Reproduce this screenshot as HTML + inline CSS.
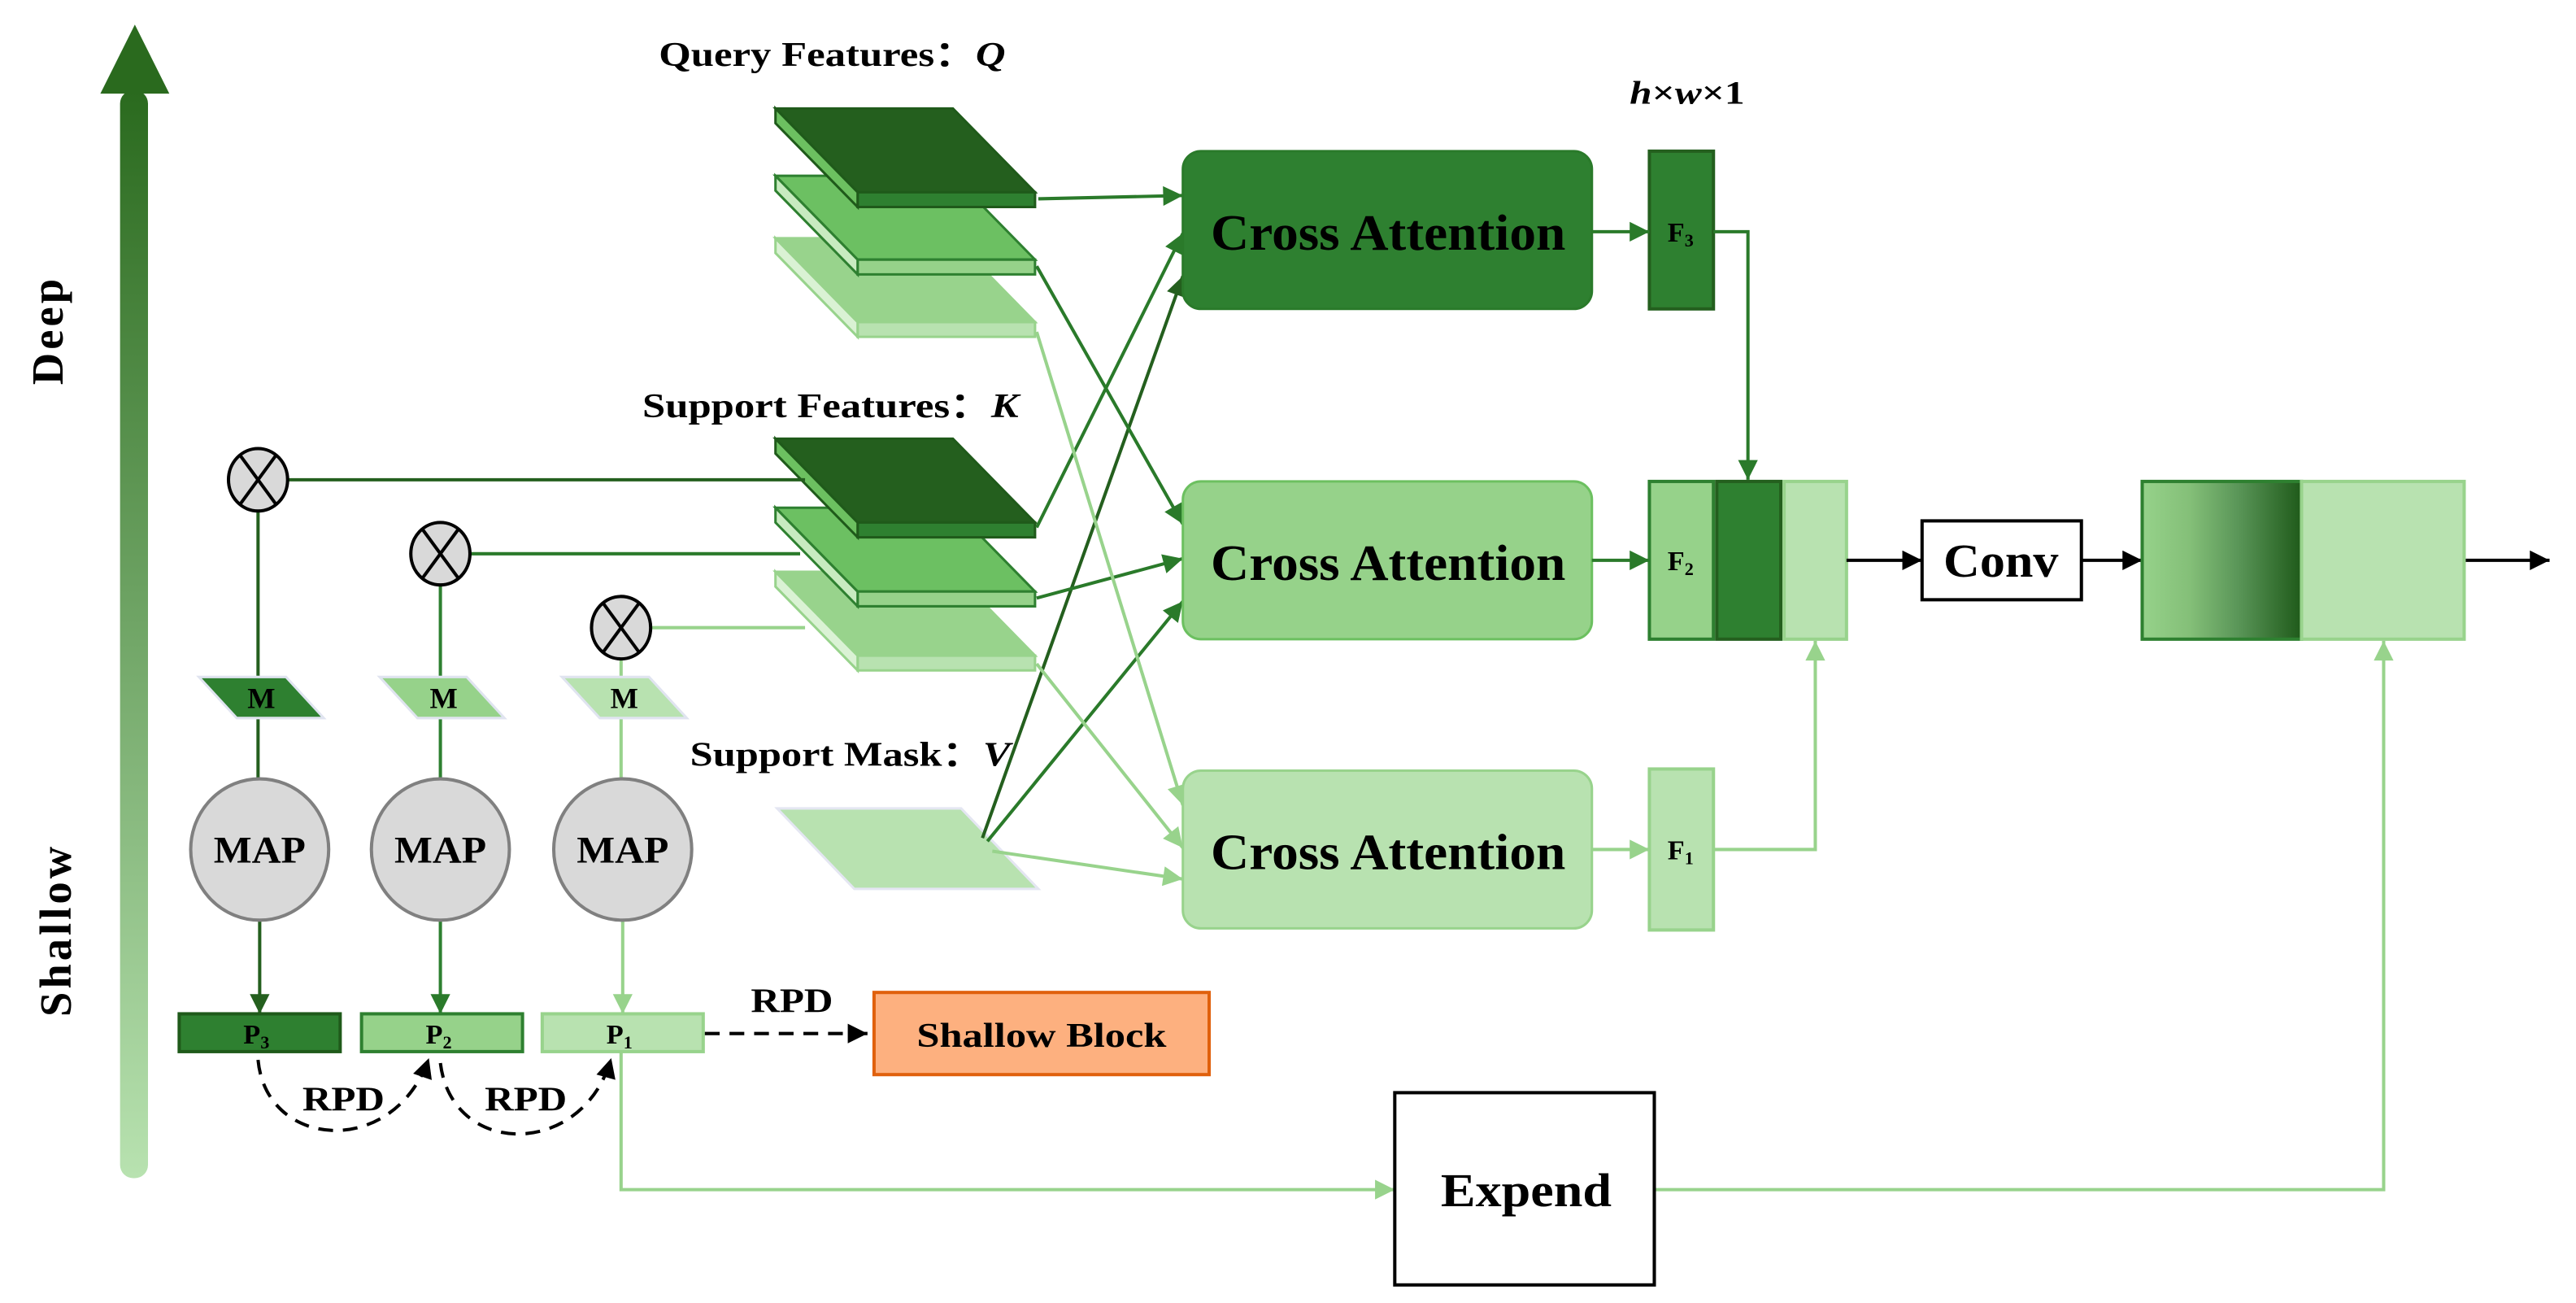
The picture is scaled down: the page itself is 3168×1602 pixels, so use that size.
<!DOCTYPE html>
<html><head><meta charset="utf-8"><style>
html,body{margin:0;padding:0;background:#fff;}
svg{display:block;}
text{font-family:"Liberation Serif",serif;font-weight:bold;fill:#000;}
</style></head><body>
<svg width="3168" height="1602" viewBox="0 0 1568 793" xmlns="http://www.w3.org/2000/svg">
<defs>
<linearGradient id="ga" x1="0" y1="0" x2="0" y2="1">
<stop offset="0" stop-color="#2a6a1e"/><stop offset="1" stop-color="#b8e2b0"/></linearGradient>
<linearGradient id="go" x1="0" y1="0" x2="1" y2="0">
<stop offset="0" stop-color="#96d28a"/><stop offset="0.3" stop-color="#84bf78"/><stop offset="0.6" stop-color="#5a9658"/><stop offset="1" stop-color="#1f5a1a"/></linearGradient>
<marker id="mD" viewBox="0 0 10 10" refX="10" refY="5" markerWidth="14" markerHeight="12" markerUnits="userSpaceOnUse" orient="auto"><path d="M0,0L10,5L0,10z" fill="#2a7a2a"/></marker>
<marker id="mDD" viewBox="0 0 10 10" refX="10" refY="5" markerWidth="14" markerHeight="12" markerUnits="userSpaceOnUse" orient="auto"><path d="M0,0L10,5L0,10z" fill="#245f1e"/></marker>
<marker id="mL" viewBox="0 0 10 10" refX="10" refY="5" markerWidth="14" markerHeight="12" markerUnits="userSpaceOnUse" orient="auto"><path d="M0,0L10,5L0,10z" fill="#98d38c"/></marker>
<marker id="mK" viewBox="0 0 10 10" refX="10" refY="5" markerWidth="14" markerHeight="12" markerUnits="userSpaceOnUse" orient="auto"><path d="M0,0L10,5L0,10z" fill="#000"/></marker>
</defs>

<rect x="73" y="55" width="17" height="662" rx="8" fill="url(#ga)"/>
<path d="M82,15L103,57L61,57z" fill="#2a6a1e"/>
<text transform="translate(38,201) rotate(-90)" font-size="27" text-anchor="middle" letter-spacing="2">Deep</text>
<text transform="translate(43,566) rotate(-90)" font-size="27" text-anchor="middle" letter-spacing="2">Shallow</text>

<text x="401" y="40" font-size="21" textLength="211" lengthAdjust="spacingAndGlyphs">Query Features：<tspan font-style="italic">Q</tspan></text>
<text x="391" y="254" font-size="21" textLength="229" lengthAdjust="spacingAndGlyphs">Support Features：<tspan font-style="italic">K</tspan></text>
<text x="420" y="466" font-size="21" textLength="195" lengthAdjust="spacingAndGlyphs">Support Mask：<tspan font-style="italic">V</tspan></text>
<text x="992" y="63" font-size="20" textLength="70" lengthAdjust="spacingAndGlyphs"><tspan font-style="italic">h</tspan>×<tspan font-style="italic">w</tspan>×1</text>

<g stroke="#98d38c" stroke-width="1.5">
<path d="M472,145L580,145L630,196L522,196z" fill="#98d38c"/>
<path d="M522,196L630,196L630,205L522,205z" fill="#b8e2b0"/>
<path d="M472,145L522,196L522,205L472,154z" fill="#daf2d4"/>
</g>
<g stroke="#2e8030" stroke-width="1.5">
<path d="M472,107L580,107L630,158L522,158z" fill="#6cc062"/>
<path d="M522,158L630,158L630,167L522,167z" fill="#96d28a"/>
<path d="M472,107L522,158L522,167L472,116z" fill="#c8ebc0"/>
</g>
<g stroke="#1f5a1a" stroke-width="1.5">
<path d="M472,66L580,66L630,117L522,117z" fill="#245f1e"/>
<path d="M522,117L630,117L630,126L522,126z" fill="#2e8030"/>
<path d="M472,66L522,117L522,126L472,75z" fill="#6cc060"/>
</g>
<g stroke="#98d38c" stroke-width="1.5">
<path d="M472,348L580,348L630,399L522,399z" fill="#98d38c"/>
<path d="M522,399L630,399L630,408L522,408z" fill="#b8e2b0"/>
<path d="M472,348L522,399L522,408L472,357z" fill="#daf2d4"/>
</g>
<g stroke="#2e8030" stroke-width="1.5">
<path d="M472,309L580,309L630,360L522,360z" fill="#6cc062"/>
<path d="M522,360L630,360L630,369L522,369z" fill="#96d28a"/>
<path d="M472,309L522,360L522,369L472,318z" fill="#c8ebc0"/>
</g>
<g stroke="#1f5a1a" stroke-width="1.5">
<path d="M472,267L580,267L630,318L522,318z" fill="#245f1e"/>
<path d="M522,318L630,318L630,327L522,327z" fill="#2e8030"/>
<path d="M472,267L522,318L522,327L472,276z" fill="#6cc060"/>
</g>
<path d="M473,492L585,492L632,541L520,541z" fill="#b8e2b0" stroke="#e4e6f2" stroke-width="1.5"/>

<g fill="none" stroke-width="2">
<line x1="632" y1="121" x2="720" y2="119" stroke="#2a7a2a" marker-end="url(#mD)"/>
<line x1="631" y1="321" x2="720" y2="142" stroke="#2a7a2a" marker-end="url(#mD)"/>
<line x1="598" y1="510" x2="720" y2="168" stroke="#245f1e" marker-end="url(#mDD)"/>
<line x1="631" y1="162" x2="720" y2="319" stroke="#2a7a2a" marker-end="url(#mD)"/>
<line x1="631" y1="364" x2="720" y2="340" stroke="#2a7a2a" marker-end="url(#mD)"/>
<line x1="601" y1="512" x2="720" y2="366" stroke="#2a7a2a" marker-end="url(#mD)"/>
<line x1="631" y1="202" x2="720" y2="490" stroke="#98d38c" marker-end="url(#mL)"/>
<line x1="631" y1="404" x2="720" y2="516" stroke="#98d38c" marker-end="url(#mL)"/>
<line x1="604" y1="518" x2="720" y2="535" stroke="#98d38c" marker-end="url(#mL)"/>
</g>

<rect x="720" y="92" width="249" height="96" rx="11" fill="#2e8030" stroke="#2a7a2a" stroke-width="1.5"/>
<rect x="720" y="293" width="249" height="96" rx="11" fill="#96d28a" stroke="#6cc060" stroke-width="1.5"/>
<rect x="720" y="469" width="249" height="96" rx="11" fill="#b8e2b0" stroke="#98d38c" stroke-width="1.5"/>
<text x="737" y="152" font-size="31" textLength="216" lengthAdjust="spacingAndGlyphs">Cross Attention</text>
<text x="737" y="353" font-size="31" textLength="216" lengthAdjust="spacingAndGlyphs">Cross Attention</text>
<text x="737" y="529" font-size="31" textLength="216" lengthAdjust="spacingAndGlyphs">Cross Attention</text>

<rect x="1004" y="92" width="39" height="96" fill="#2e8030" stroke="#245f1e" stroke-width="2"/>
<rect x="1004" y="293" width="39" height="96" fill="#96d28a" stroke="#2e8030" stroke-width="2"/>
<rect x="1045" y="293" width="39" height="96" fill="#2e8030" stroke="#245f1e" stroke-width="2"/>
<rect x="1086" y="293" width="38" height="96" fill="#b8e2b0" stroke="#98d38c" stroke-width="2"/>
<rect x="1004" y="468" width="39" height="98" fill="#b8e2b0" stroke="#98d38c" stroke-width="2"/>
<text x="1023" y="147" font-size="17" text-anchor="middle">F<tspan font-size="11" dy="3">3</tspan></text>
<text x="1023" y="347" font-size="17" text-anchor="middle">F<tspan font-size="11" dy="3">2</tspan></text>
<text x="1023" y="523" font-size="17" text-anchor="middle">F<tspan font-size="11" dy="3">1</tspan></text>

<g fill="none" stroke-width="2">
<line x1="969" y1="141" x2="1004" y2="141" stroke="#2a7a2a" marker-end="url(#mD)"/>
<line x1="969" y1="341" x2="1004" y2="341" stroke="#2a7a2a" marker-end="url(#mD)"/>
<line x1="969" y1="517" x2="1004" y2="517" stroke="#98d38c" marker-end="url(#mL)"/>
<polyline points="1043,141 1064,141 1064,292" stroke="#2a7a2a" marker-end="url(#mD)"/>
<polyline points="1043,517 1105,517 1105,390" stroke="#98d38c" marker-end="url(#mL)"/>
<line x1="1124" y1="341" x2="1170" y2="341" stroke="#000" marker-end="url(#mK)"/>
<line x1="1267" y1="341" x2="1304" y2="341" stroke="#000" marker-end="url(#mK)"/>
<line x1="1500" y1="341" x2="1552" y2="341" stroke="#000" marker-end="url(#mK)"/>
<polyline points="378,640 378,724 849,724" stroke="#98d38c" marker-end="url(#mL)"/>
<polyline points="1007,724 1451,724 1451,390" stroke="#98d38c" marker-end="url(#mL)"/>
</g>

<rect x="1170" y="317" width="97" height="48" fill="#fff" stroke="#000" stroke-width="2"/>
<text x="1183" y="351" font-size="29" textLength="70" lengthAdjust="spacingAndGlyphs">Conv</text>
<rect x="1304" y="293" width="97" height="96" fill="url(#go)" stroke="#2e8030" stroke-width="2"/>
<rect x="1401" y="293" width="99" height="96" fill="#b8e2b0" stroke="#98d38c" stroke-width="2"/>
<rect x="849" y="665" width="158" height="117" fill="#fff" stroke="#000" stroke-width="2"/>
<text x="877" y="734" font-size="29" textLength="104" lengthAdjust="spacingAndGlyphs">Expend</text>

<g fill="none" stroke-width="2">
<line x1="175" y1="292" x2="490" y2="292" stroke="#245f1e"/>
<line x1="286" y1="337" x2="487" y2="337" stroke="#2a7a2a"/>
<line x1="396" y1="382" x2="490" y2="382" stroke="#98d38c"/>
<line x1="157" y1="311" x2="157" y2="474" stroke="#245f1e"/>
<line x1="268" y1="356" x2="268" y2="474" stroke="#2e8030"/>
<line x1="378" y1="401" x2="378" y2="474" stroke="#98d38c"/>
<line x1="158" y1="560" x2="158" y2="617" stroke="#245f1e" marker-end="url(#mDD)"/>
<line x1="268" y1="560" x2="268" y2="617" stroke="#2e8030" marker-end="url(#mD)"/>
<line x1="379" y1="560" x2="379" y2="617" stroke="#98d38c" marker-end="url(#mL)"/>
</g>
<g fill="#d9d9d9" stroke="#000" stroke-width="2">
<ellipse cx="157" cy="292" rx="18" ry="19"/>
<ellipse cx="268" cy="337" rx="18" ry="19"/>
<ellipse cx="378" cy="382" rx="18" ry="19"/>
</g>
<g stroke="#000" stroke-width="2">
<line x1="146" y1="277" x2="168" y2="307"/><line x1="168" y1="277" x2="146" y2="307"/>
<line x1="257" y1="322" x2="279" y2="352"/><line x1="279" y1="322" x2="257" y2="352"/>
<line x1="367" y1="367" x2="389" y2="397"/><line x1="389" y1="367" x2="367" y2="397"/>
</g>
<path d="M121,412L174,412L197,437L144,437z" fill="#2e8030" stroke="#e0e4f0" stroke-width="1.5"/>
<path d="M231,412L284,412L307,437L254,437z" fill="#96d28a" stroke="#e0e4f0" stroke-width="1.5"/>
<path d="M342,412L395,412L418,437L365,437z" fill="#b8e2b0" stroke="#e0e4f0" stroke-width="1.5"/>
<text x="159" y="431" font-size="18" text-anchor="middle">M</text>
<text x="270" y="431" font-size="18" text-anchor="middle">M</text>
<text x="380" y="431" font-size="18" text-anchor="middle">M</text>
<g fill="#d9d9d9" stroke="#808080" stroke-width="2">
<ellipse cx="158" cy="517" rx="42" ry="43"/>
<ellipse cx="268" cy="517" rx="42" ry="43"/>
<ellipse cx="379" cy="517" rx="42" ry="43"/>
</g>
<text x="130" y="525" font-size="23" textLength="56" lengthAdjust="spacingAndGlyphs">MAP</text>
<text x="240" y="525" font-size="23" textLength="56" lengthAdjust="spacingAndGlyphs">MAP</text>
<text x="351" y="525" font-size="23" textLength="56" lengthAdjust="spacingAndGlyphs">MAP</text>

<rect x="109" y="617" width="98" height="23" fill="#2e8030" stroke="#1f5a1a" stroke-width="2"/>
<rect x="220" y="617" width="98" height="23" fill="#96d28a" stroke="#2e8030" stroke-width="2"/>
<rect x="330" y="617" width="98" height="23" fill="#b8e2b0" stroke="#98d38c" stroke-width="2"/>
<text x="156" y="635" font-size="17" text-anchor="middle">P<tspan font-size="11" dy="3">3</tspan></text>
<text x="267" y="635" font-size="17" text-anchor="middle">P<tspan font-size="11" dy="3">2</tspan></text>
<text x="377" y="635" font-size="17" text-anchor="middle">P<tspan font-size="11" dy="3">1</tspan></text>

<g fill="none" stroke="#000" stroke-width="2" stroke-dasharray="9,6">
<line x1="429" y1="629" x2="528" y2="629" marker-end="url(#mK)"/>
<path d="M157,645 C162,700 240,705 261,644" marker-end="url(#mK)"/>
<path d="M268,647 C275,705 355,705 372,644" marker-end="url(#mK)"/>
</g>
<text x="457" y="616" font-size="21" textLength="50" lengthAdjust="spacingAndGlyphs">RPD</text>
<text x="184" y="676" font-size="21" textLength="50" lengthAdjust="spacingAndGlyphs">RPD</text>
<text x="295" y="676" font-size="21" textLength="50" lengthAdjust="spacingAndGlyphs">RPD</text>

<rect x="532" y="604" width="204" height="50" fill="#fdb07f" stroke="#e0600c" stroke-width="2"/>
<text x="558" y="637" font-size="21" textLength="152" lengthAdjust="spacingAndGlyphs">Shallow Block</text>
</svg>
</body></html>
